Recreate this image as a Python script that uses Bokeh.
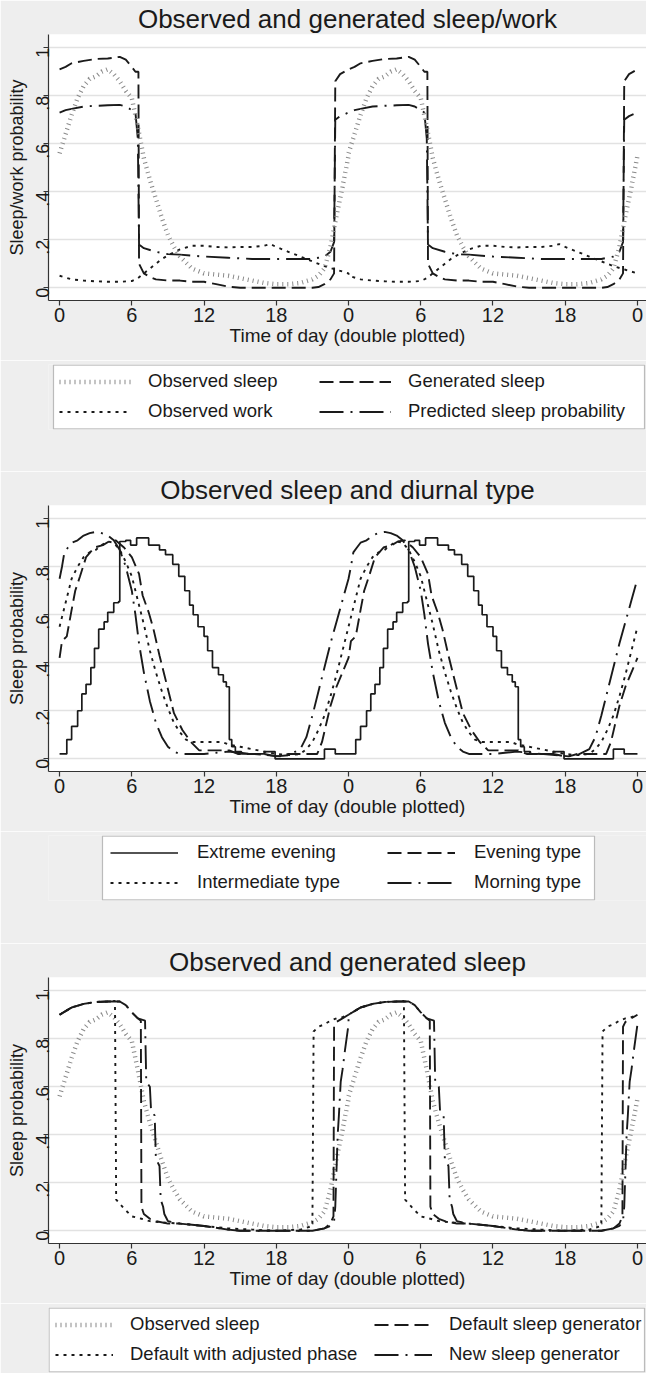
import math
from bokeh.plotting import figure
from bokeh.models import Range1d, FixedTicker, Legend, LegendItem, BoxAnnotation
from bokeh.layouts import column
from bokeh.embed import file_html
from bokeh.resources import INLINE

FONT = "Liberation Sans"
BG = "#eeeeee"
INK = "#1a1a1a"
GRAY = "#8a8a8a"

# ---------------- axes ----------------
x_ticks = [0, 6, 12, 18, 24, 30, 36, 42, 48]
x_tick_labels = ["0", "6", "12", "18", "0", "6", "12", "18", "0"]
y_ticks = [0, 0.2, 0.4, 0.6, 0.8, 1]
y_tick_labels = ["0", ".2", ".4", ".6", ".8", "1"]

# ---------------- panel 1 (one day; the chart double-plots it) ----------------
obs_sleep_h = [0, 0.5, 1, 1.5, 2, 2.5, 3, 3.5, 4, 4.5, 5, 5.5, 6, 6.5, 7, 7.5, 8, 8.5, 9, 9.5,
               10, 11, 12, 13, 14, 15, 16, 17, 18, 19, 20, 21, 21.5, 22, 22.5, 23, 23.5, 24]
obs_sleep_v = [0.56, 0.64, 0.72, 0.79, 0.84, 0.87, 0.88, 0.90, 0.91, 0.89, 0.86, 0.82, 0.79, 0.67, 0.54, 0.45, 0.37, 0.29, 0.22, 0.17,
               0.13, 0.08, 0.06, 0.055, 0.05, 0.04, 0.03, 0.02, 0.015, 0.015, 0.02, 0.035, 0.05, 0.08, 0.17, 0.30, 0.42, 0.55]

gen_sleep_h = [0, 0.5, 1, 1.5, 2, 3, 4, 5, 5.5, 6, 6.3, 6.55, 6.6, 7, 7.5, 8, 9, 10, 11, 12,
               13, 14, 15, 18, 21, 21.5, 22, 22.5, 22.8, 22.9, 23.3, 24]
gen_sleep_v = [0.91, 0.92, 0.935, 0.94, 0.945, 0.953, 0.955, 0.962, 0.95, 0.92, 0.90, 0.90, 0.10, 0.06, 0.045, 0.035, 0.03, 0.03, 0.025, 0.025,
               0.015, 0.005, 0, 0, 0, 0.003, 0.015, 0.035, 0.06, 0.86, 0.89, 0.91]

obs_work_h = [0, 1, 2, 3, 4, 5, 6, 6.5, 7, 7.5, 8, 8.5, 9, 10, 11, 12, 13, 14, 15, 16,
              17, 17.5, 18, 19, 20, 21, 22, 23, 24]
obs_work_v = [0.05, 0.035, 0.03, 0.027, 0.025, 0.025, 0.028, 0.04, 0.06, 0.08, 0.10, 0.12, 0.135, 0.16, 0.175, 0.175, 0.17, 0.168, 0.17, 0.17,
              0.175, 0.182, 0.17, 0.15, 0.13, 0.11, 0.09, 0.075, 0.06]

pred_h = [0, 0.5, 1, 2, 3, 4, 5, 5.5, 6, 6.3, 6.5, 6.6, 7, 8, 9, 10, 12, 14, 16, 18,
          20, 21, 21.5, 22, 22.5, 22.8, 22.9, 23.3, 24]
pred_v = [0.73, 0.74, 0.745, 0.755, 0.758, 0.76, 0.762, 0.755, 0.74, 0.73, 0.62, 0.18, 0.165, 0.15, 0.14, 0.138, 0.13, 0.125, 0.12, 0.12,
          0.12, 0.12, 0.125, 0.13, 0.15, 0.19, 0.70, 0.715, 0.73]

# ---------------- panel 2 ----------------
ext_h = [0, 0.5, 0.6, 1.0, 1.3, 1.5, 1.85, 2.2, 2.6, 2.9, 3.25, 3.7, 4.0, 4.5, 4.9, 5.0, 5.5, 5.9, 6.4, 6.9,
         7.4, 8.3, 8.8, 9.4, 9.9, 10.4, 10.8, 11.1, 11.5, 12.0, 12.3, 12.7, 13.2, 13.6, 13.85, 14.1, 14.3, 14.6, 15.1, 16.2,
         17.0, 17.9, 22.0, 22.9, 24]
ext_v = [0.02, 0.02, 0.08, 0.135, 0.135, 0.2, 0.27, 0.31, 0.38, 0.46, 0.54, 0.57, 0.61, 0.65, 0.655, 0.905, 0.91, 0.89, 0.92, 0.92,
         0.89, 0.87, 0.85, 0.81, 0.76, 0.70, 0.64, 0.60, 0.55, 0.51, 0.45, 0.38, 0.35, 0.32, 0.30, 0.08, 0.05, 0.03, 0.02, 0.02,
         0.03, 0.0, 0.04, 0.02, 0.02]

eve_h = [0, 0.2, 0.6, 1.0, 1.3, 1.7, 2.2, 2.9, 3.6, 4.1, 4.65, 5.35, 6.0, 6.6, 6.9, 7.4, 7.8, 8.3, 8.7, 9.1,
         9.5, 10.2, 10.9, 11.6, 12.7, 14.1, 14.8, 16.2, 18.3, 19.0, 21.4, 21.8, 22.1, 22.5, 23.0, 23.5, 24]
eve_v = [0.42, 0.49, 0.51, 0.62, 0.70, 0.76, 0.84, 0.88, 0.89, 0.905, 0.91, 0.88, 0.84, 0.77, 0.68, 0.61, 0.54, 0.43, 0.35, 0.27,
         0.19, 0.12, 0.07, 0.035, 0.035, 0.035, 0.02, 0.02, 0.01, 0.02, 0.02, 0.07, 0.135, 0.22, 0.30, 0.36, 0.42]

int_h = [0, 0.5, 1, 1.5, 2, 2.5, 3, 3.5, 4, 4.5, 5, 5.5, 6, 6.5, 7, 7.5, 8, 8.5, 9, 9.5,
         10, 10.5, 11, 12, 13, 13.5, 14, 15, 16, 17, 18, 19, 20, 20.5, 21, 21.5, 22, 22.5, 23, 23.5, 24]
int_v = [0.55, 0.65, 0.75, 0.80, 0.84, 0.86, 0.87, 0.89, 0.905, 0.90, 0.87, 0.82, 0.76, 0.66, 0.56, 0.45, 0.36, 0.28, 0.21, 0.15,
         0.11, 0.08, 0.07, 0.07, 0.07, 0.07, 0.06, 0.05, 0.04, 0.03, 0.02, 0.015, 0.02, 0.04, 0.07, 0.12, 0.18, 0.26, 0.35, 0.45, 0.55]

morn_h = [0, 0.2, 0.4, 0.7, 1, 1.5, 2, 2.5, 3, 3.5, 4, 4.5, 5, 5.5, 6, 6.3, 6.6, 7, 7.5, 8,
          8.5, 9, 9.5, 10, 11, 12, 13, 14, 15, 16, 17, 18, 19, 20, 20.5, 21, 21.5, 22, 22.5, 23, 23.5, 24]
morn_v = [0.75, 0.80, 0.86, 0.88, 0.90, 0.91, 0.93, 0.94, 0.945, 0.94, 0.93, 0.91, 0.87, 0.80, 0.70, 0.60, 0.48, 0.36, 0.24, 0.15,
          0.09, 0.05, 0.03, 0.02, 0.02, 0.02, 0.025, 0.03, 0.025, 0.02, 0.02, 0.01, 0.015, 0.04, 0.09, 0.18, 0.28, 0.38, 0.48, 0.57, 0.66, 0.75]

# ---------------- panel 3 ----------------
adj_h = [0, 0.5, 1, 2, 3, 4, 4.6, 4.7, 5.4, 6, 6.8, 7.5, 8.8, 10, 12, 14, 16, 18, 20, 21.0,
         21.1, 21.5, 22, 22.5, 23, 23.5, 24]
adj_v = [0.90, 0.915, 0.93, 0.945, 0.953, 0.955, 0.957, 0.13, 0.09, 0.06, 0.05, 0.04, 0.034, 0.03, 0.02, 0.01, 0.005, 0.0, 0.005, 0.02,
         0.83, 0.85, 0.86, 0.875, 0.885, 0.89, 0.90]

def_h = [0, 0.5, 1, 2, 3, 4, 5, 5.5, 6, 6.5, 6.75, 6.8, 7, 7.5, 8, 9, 10, 12, 14, 15,
         18, 21, 22, 22.5, 22.75, 22.8, 23, 23.5, 24]
def_v = [0.90, 0.915, 0.93, 0.945, 0.953, 0.955, 0.955, 0.94, 0.91, 0.885, 0.875, 0.10, 0.07, 0.05, 0.04, 0.03, 0.03, 0.02, 0.005, 0.0,
         0.0, 0.0, 0.01, 0.03, 0.06, 0.85, 0.87, 0.885, 0.90]

new_h = [0, 0.5, 1, 2, 3, 4, 5, 5.5, 6, 6.5, 7.1, 7.2, 7.5, 7.6, 7.9, 8.0, 8.3, 8.4, 8.6, 8.7,
         8.9, 9, 10, 12, 14, 15, 18, 21, 22, 22.5, 22.8, 22.9, 23.0, 23.1, 23.2, 23.35, 23.5, 23.7, 24]
new_v = [0.90, 0.915, 0.93, 0.945, 0.953, 0.955, 0.955, 0.94, 0.91, 0.885, 0.875, 0.62, 0.60, 0.50, 0.48, 0.30, 0.27, 0.13, 0.10, 0.07,
         0.05, 0.04, 0.03, 0.02, 0.005, 0.0, 0.0, 0.0, 0.01, 0.02, 0.04, 0.10, 0.25, 0.40, 0.48, 0.62, 0.67, 0.75, 0.86]


def twice(h, v):
    """double plot: the same day drawn at 0-24 h and again at 24-48 h"""
    return list(h) + [x + 24 for x in h], list(v) + list(v)


STY_OBS = dict(line_color=GRAY, line_width=4.5, line_dash="1 4")
STY_LONG = dict(line_color=INK, line_width=1.9, line_dash="14 6")
STY_SHORT = dict(line_color=INK, line_width=1.9, line_dash="3 5")
STY_DASHDOT = dict(line_color=INK, line_width=1.9, line_dash="24 7 2 7")
STY_SOLID = dict(line_color=INK, line_width=1.7)

FRAME_W = 598


def make_panel(title, ylabel):
    p = figure(frame_width=FRAME_W, frame_height=266, output_backend="svg", toolbar_location=None,
               x_range=Range1d(-0.92, 48.75), y_range=Range1d(-0.053, 1.055),
               min_border_left=48, min_border_right=0, min_border_top=32,
               min_border_bottom=60)
    p.background_fill_color = "white"
    p.border_fill_color = BG
    p.outline_line_color = None

    p.title.text = title
    p.title.align = "center"
    p.title.text_font = FONT
    p.title.text_font_size = "26px"
    p.title.text_font_style = "normal"
    p.title.text_color = INK
    p.title.standoff = 2

    xa = p.xaxis[0]
    xa.ticker = FixedTicker(ticks=x_ticks)
    xa.major_label_overrides = {t: s for t, s in zip(x_ticks, x_tick_labels)}
    xa.axis_label = "Time of day (double plotted)"
    xa.major_label_standoff = 2
    xa.axis_label_standoff = 0
    xa.major_label_text_font_size = "20px"
    xa.axis_label_text_font_size = "19px"

    ya = p.yaxis[0]
    ya.ticker = FixedTicker(ticks=y_ticks)
    ya.major_label_overrides = {t: s for t, s in zip(y_ticks, y_tick_labels)}
    ya.axis_label = ylabel
    ya.major_label_orientation = math.pi / 2
    ya.major_label_standoff = 1
    ya.axis_label_standoff = 0
    ya.major_label_text_font_size = "18px"
    ya.axis_label_text_font_size = "18px"

    for ax in (xa, ya):
        ax.axis_line_color = "#333333"
        ax.axis_line_width = 1.2
        ax.major_tick_line_color = "#333333"
        ax.major_tick_line_width = 1.2
        ax.major_tick_out = 5
        ax.major_tick_in = 0
        ax.minor_tick_line_color = None
        ax.major_label_text_font = FONT
        ax.major_label_text_color = INK
        ax.axis_label_text_font = FONT
        ax.axis_label_text_font_style = "normal"
        ax.axis_label_text_color = INK

    p.xgrid.visible = False
    p.ygrid.grid_line_color = "#e2e2e2"
    p.ygrid.grid_line_width = 1.5
    return p


def make_key(box_left, box_right, gap_below, columns, glyph_width, label_standoff):
    """legend strip under a panel: a framed white box holding two columns of keys.
    The strip's x range is in pixels from the plot frame's left edge; its y range
    (100-165) keeps the proxy series used for the key samples out of view."""
    k = figure(frame_width=FRAME_W, frame_height=65, output_backend="svg", toolbar_location=None,
               x_axis_type=None, y_axis_type=None,
               x_range=Range1d(0, FRAME_W), y_range=Range1d(100, 165),
               min_border_left=48, min_border_right=0,
               min_border_top=4, min_border_bottom=gap_below)
    k.background_fill_color = BG
    k.border_fill_color = BG
    k.outline_line_color = None
    k.add_layout(BoxAnnotation(left=box_left, right=box_right, bottom=100.6, top=164.4,
                               fill_color="white", fill_alpha=1.0,
                               line_color="#333333", line_width=1.2, level="underlay"))
    for x_off, entries in columns:
        items = []
        for label, (hh, vv), style in entries:
            x, y = twice(hh, vv)
            r = k.line(x, y, **style)
            items.append(LegendItem(label=label, renderers=[r]))
        lg = Legend(items=items, location=(x_off, 7), orientation="vertical",
                    glyph_width=glyph_width, glyph_height=21, label_height=21,
                    label_standoff=label_standoff, spacing=8, padding=0, margin=0,
                    label_text_font=FONT, label_text_font_size="18.5px", label_text_color=INK,
                    border_line_color=None, background_fill_alpha=0.0)
        k.add_layout(lg)
    return k


# ---------------- panel 1 ----------------
p1 = make_panel("Observed and generated sleep/work", "Sleep/work probability")
x, y = twice(pred_h, pred_v)
p1.line(x, y, **STY_DASHDOT)
x, y = twice(obs_work_h, obs_work_v)
p1.line(x, y, **STY_SHORT)
x, y = twice(gen_sleep_h, gen_sleep_v)
p1.line(x, y, **STY_LONG)
x, y = twice(obs_sleep_h, obs_sleep_v)
p1.line(x, y, **STY_OBS)
k1 = make_key(5, 596, 42,
              [(11, [("Observed sleep", (obs_sleep_h, obs_sleep_v), STY_OBS),
                     ("Observed work", (obs_work_h, obs_work_v), STY_SHORT)]),
               (271, [("Generated sleep", (gen_sleep_h, gen_sleep_v), STY_LONG),
                      ("Predicted sleep probability", (pred_h, pred_v), STY_DASHDOT)])],
              glyph_width=72, label_standoff=17)

# ---------------- panel 2 ----------------
p2 = make_panel("Observed sleep and diurnal type", "Sleep probability")
x, y = twice(ext_h, ext_v)
p2.step(x, y, mode="after", **STY_SOLID)
x, y = twice(eve_h, eve_v)
p2.line(x, y, **STY_LONG)
x, y = twice(int_h, int_v)
p2.line(x, y, **STY_SHORT)
x, y = twice(morn_h, morn_v)
p2.line(x, y, **STY_DASHDOT)
k2 = make_key(54, 546, 43,
              [(62, [("Extreme evening", (ext_h, ext_v), STY_SOLID),
                     ("Intermediate type", (int_h, int_v), STY_SHORT)]),
               (339, [("Evening type", (eve_h, eve_v), STY_LONG),
                      ("Morning type", (morn_h, morn_v), STY_DASHDOT)])],
              glyph_width=68, label_standoff=19)

# ---------------- panel 3 ----------------
p3 = make_panel("Observed and generated sleep", "Sleep probability")
x, y = twice(obs_sleep_h, obs_sleep_v)
p3.line(x, y, **STY_OBS)
x, y = twice(adj_h, adj_v)
p3.line(x, y, **STY_SHORT)
x, y = twice(def_h, def_v)
p3.line(x, y, **STY_LONG)
x, y = twice(new_h, new_v)
p3.line(x, y, **STY_DASHDOT)
k3 = make_key(0.6, 596, 1,
              [(7, [("Observed sleep", (obs_sleep_h, obs_sleep_v), STY_OBS),
                    ("Default with adjusted phase", (adj_h, adj_v), STY_SHORT)]),
               (326, [("Default sleep generator", (def_h, def_v), STY_LONG),
                      ("New sleep generator", (new_h, new_v), STY_DASHDOT)])],
              glyph_width=58, label_standoff=17)

layout = column(p1, k1, p2, k2, p3, k3, spacing=0)

open("out.html", "w").write(file_html(layout, INLINE))
